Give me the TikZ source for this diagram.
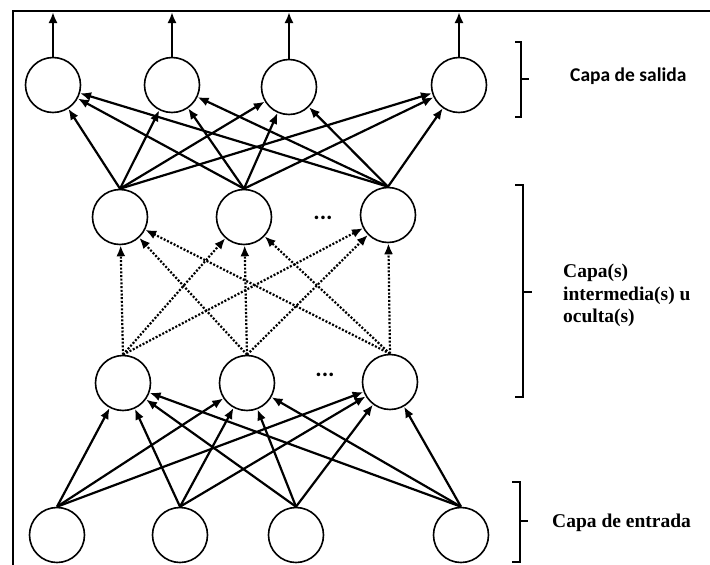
\documentclass[tikz,border=0pt]{standalone}
\usepackage{fontspec}
\setmainfont{Liberation Serif}
\newfontfamily\timesfont{Liberation Serif}
\newfontfamily\carlitofont{Carlito}
\usetikzlibrary{arrows.meta}
\begin{document}
\begin{tikzpicture}[x=1pt,y=-1pt,
  neuron/.style={circle,draw,line width=1.6pt,minimum size=55pt,inner sep=0pt},
  conn/.style={line width=2.2pt,-{Latex[length=11pt,width=9pt]}},
  dconn/.style={conn,dash pattern=on 2pt off 1.7pt},
  frameline/.style={line width=2.8pt},
  bracket/.style={line width=2.4pt},
  lbl/.style={font=\fontsize{19.5}{22.5}\selectfont\timesfont\bfseries,inner sep=0pt},
  dotlbl/.style={font=\fontsize{24}{24}\selectfont\carlitofont\bfseries,inner sep=0pt}]
\useasboundingbox (0,0) rectangle (710,565);
% frame
\coordinate (fa) at (13,565);
\coordinate (fb) at (13,11);
\coordinate (fc) at (710,11);
\draw[frameline] (fa) -- (fb) -- (fc);
% nodes
\node[neuron] (o1) at (53,85) {};
\node[neuron] (o2) at (172,85) {};
\node[neuron] (o3) at (289,87) {};
\node[neuron] (o4) at (459,85) {};
\node[neuron] (b1) at (120,217) {};
\node[neuron] (b2) at (244,217) {};
\node[neuron] (b3) at (388,215) {};
\node[neuron] (a1) at (123,383) {};
\node[neuron] (a2) at (247,383) {};
\node[neuron] (a3) at (390,382) {};
\node[neuron] (i1) at (57,535) {};
\node[neuron] (i2) at (180,535) {};
\node[neuron] (i3) at (296,535) {};
\node[neuron] (i4) at (461,535) {};
\node[dotlbl] (d1) at (323,218) {...};
\node[dotlbl] (d2) at (325,375) {...};
% connections
\foreach \s in {1,2,3,4}
  \foreach \t in {1,2,3}
    \draw[conn] (i\s.north) -- (a\t);
\foreach \s in {1,2,3}
  \foreach \t in {1,2,3}
    \draw[dconn] (a\s.north) -- (b\t);
\foreach \s in {1,2,3}
  \foreach \t in {1,2,3,4}
    \draw[conn] (b\s.north) -- (o\t);
\coordinate (tl) at (0,12);
\foreach \t in {1,2,3,4}
  \draw[conn] (o\t.north) -- (o\t.north |- tl);
% brackets
\draw[bracket] (515,42) -- (521,42) -- (521,117) -- (515,117);
\draw[bracket] (521,79) -- (529,79);
\draw[bracket] (515,185) -- (523,185) -- (523,397) -- (515,397);
\draw[bracket] (523,292) -- (532,292);
\draw[bracket] (512,482) -- (520,482) -- (520,562) -- (512,562);
\draw[bracket] (520,521) -- (528,521);
% labels
\node[lbl,font=\fontsize{19.5}{22.5}\selectfont\carlitofont\bfseries,anchor=base west] (ls) at (570,81) {Capa de salida};
\node[lbl,anchor=north west,align=left] (lh) at (563,264) {Capa(s)\\intermedia(s) u\\oculta(s)};
\node[lbl,anchor=base west] (le) at (552,527) {Capa de entrada};
\end{tikzpicture}
\end{document}
